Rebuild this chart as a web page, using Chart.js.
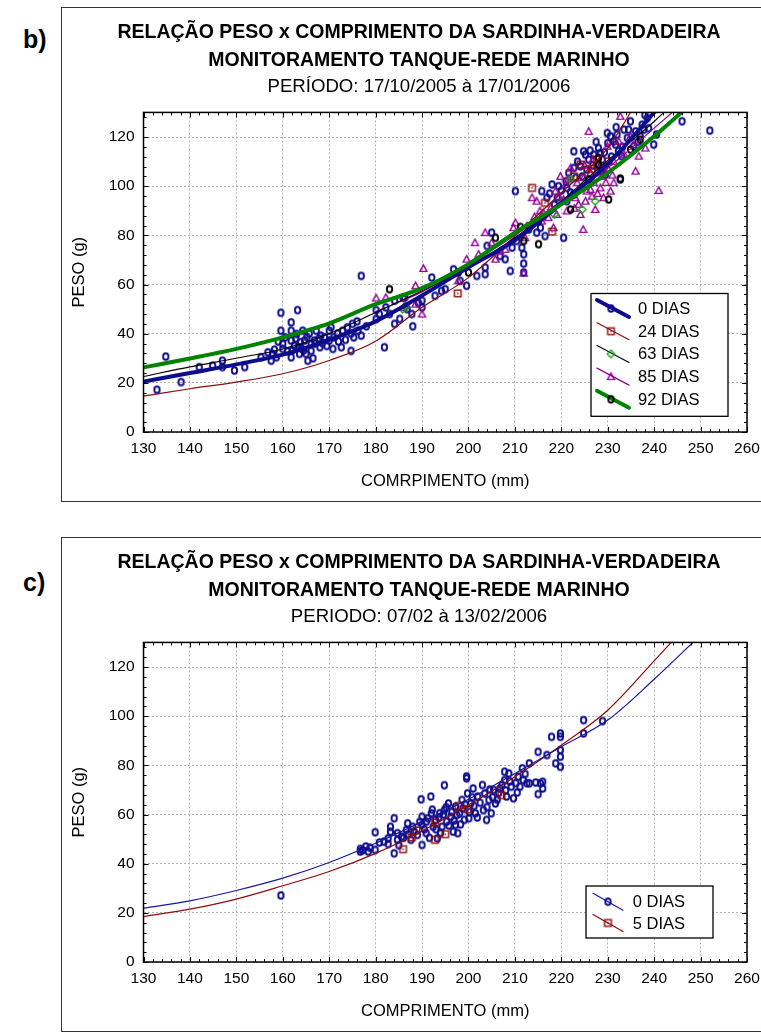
<!DOCTYPE html>
<html><head><meta charset="utf-8">
<script src="https://cdn.jsdelivr.net/npm/chart.js@4.4.0/dist/chart.umd.min.js"></script>
<style>
html,body{margin:0;padding:0;background:#fff;overflow:hidden;width:761px;height:1032px;}
.box{position:absolute;left:61px;width:730px;border:1.5px solid #333;box-sizing:border-box;}
.lbl{position:absolute;font:bold 25px "Liberation Sans",Arial,sans-serif;line-height:25px;color:#000;}
canvas{position:absolute;}
</style></head><body>
<div class="box" style="top:7px;height:495px;"></div>
<div class="lbl" style="left:23px;top:27px;">b)</div>
<canvas id="cb" width="714" height="492" style="left:62px;top:8px;"></canvas>
<div class="box" style="top:537px;height:495px;"></div>
<div class="lbl" style="left:23px;top:570px;">c)</div>
<canvas id="cc" width="714" height="492" style="left:62px;top:538px;"></canvas>
<script>
// ---------- tick labels ----------
const xTicks = [130,140,150,160,170,180,190,200,210,220,230,240,250,260];
const yTicks = [0,20,40,60,80,100,120];

// ---------- panel b ----------
const titleB = ['RELAÇÃO PESO x COMPRIMENTO DA SARDINHA-VERDADEIRA','MONITORAMENTO TANQUE-REDE MARINHO'];
const subtitleB = 'PERÍODO: 17/10/2005 à 17/01/2006';
const xTitleB = 'COMRPIMENTO (mm)';
const seriesB = ['0 DIAS','24 DIAS','63 DIAS','85 DIAS','92 DIAS'];

const b0 = [[132.9,17.2],[134.8,30.7],[138.1,20.3],[142,26.4],[144.9,27],[147,29],[147,26.4],[149.6,25],[151.8,26.4],[155.3,30.4],[156.8,32.4],[157.5,29],[157.8,31.8],[158.2,33.5],[158.6,30.4],[159,36.8],[159.6,48.5],[159.6,41.2],[160,35.8],[160,33.8],[160.5,38.5],[161,32.8],[161.8,44.6],[161.8,41.2],[161.8,37.2],[161.8,30.4],[162,33.2],[162.5,35.1],[162.8,38],[163.2,49.6],[163,39.9],[163.3,34.5],[163.6,31.8],[163.8,36.5],[164,34],[164.3,41.2],[164.5,33.2],[164.7,37.2],[165,31.8],[165.2,38.6],[165.4,29],[165.7,40],[166.1,35.8],[166.1,33],[166.5,30],[166.8,37.2],[167,36],[167.2,41.2],[167.8,38],[168,34.5],[168.2,39.2],[168.5,36.2],[169,38.5],[169.5,35],[170,41.2],[170,37.2],[170.4,42.6],[170.8,33.8],[171,38.5],[171.8,40],[172,36.8],[172.6,34.5],[172.9,41.2],[173.5,37.5],[173.9,42.6],[174.7,33],[174.7,40],[175,44],[175.3,38.5],[176,45],[176.2,41.2],[176.9,63.5],[176.9,39.2],[178,43],[180.1,46],[180.1,49.6],[180.8,48],[181.9,34.5],[182.2,50.7],[183,48],[184.1,44],[184.1,53.4],[185.2,46],[185.9,54.7],[186.3,54.7],[186.8,50],[187.8,48],[188,43],[189.2,52.5],[190,50.7],[190,53.4],[192.1,62.8],[192.8,55.4],[194.2,57.4],[195,58.1],[196.8,66.2],[198.2,61.5],[199.6,59.5],[201.8,63.5],[203.6,64.2],[203.6,66.9],[204,75.7],[205,81.1],[206.8,71.6],[207.9,70.3],[209,65.5],[209.4,75],[210.1,98],[210.4,77.7],[211.5,75],[211.9,72.3],[211.9,68.5],[211.9,64.9],[213,82.4],[214.7,81.1],[215.5,83.1],[215.8,98],[216.5,79.7],[216.9,95.3],[217.5,97],[218,100.7],[218.5,92.5],[219.1,95.3],[219.4,100],[220,98.2],[220.5,79],[221,102],[221.2,99.3],[221.2,93.9],[221.6,105.4],[222,97.5],[222.7,114.2],[222.7,107.4],[223.1,103.4],[223.5,110],[224.1,108.1],[224.5,104],[224.8,114.2],[225.2,112.8],[225.5,106.8],[225.9,110.8],[226.2,114.5],[226.8,108.5],[227,112.8],[227.5,118],[227.7,108.1],[228,115.5],[228.4,113.5],[228.6,106],[228.8,110.8],[229.3,113.8],[229.5,104.7],[229.9,121.6],[230,117.5],[230.6,120.3],[230.8,112],[231.3,118.2],[231.7,116.9],[231.8,124],[232,121],[232.3,114.2],[232.7,102.7],[233,112.2],[233.2,116],[233.5,123],[234.2,119.6],[234.5,123],[234.9,126.4],[235.6,116.2],[236,122.3],[236.5,118],[237,120.3],[237.4,125],[237.8,123],[238,129],[238.5,127.7],[238.8,123.6],[239.9,116.9],[240.5,121],[246,126.4],[252,122.6]];
const b24 = [[197.7,56.4],[213.7,99.3],[216.5,93.2],[218,81.5],[222.7,104],[224.1,108.8],[226.5,107],[227.7,110.8],[230.2,110.1]];
const b63 = [[185.8,50],[186.5,51],[218.5,88.5],[222,102.7],[224.5,90.5],[227.3,93.9]];
const b85 = [[180.1,54.5],[182.2,54.7],[186,50.7],[186.3,51.4],[188.6,59.5],[188.6,52],[190,48],[190.3,66.5],[197.8,61.5],[199.6,70.3],[201.4,77],[202.2,72.3],[203.6,81.1],[205,77],[205.8,70.3],[206.8,73.6],[207.9,74.3],[209.7,83.1],[210.1,85.1],[211.9,64.6],[212.2,79],[212.6,83.8],[213.7,95.3],[214.2,87.5],[214.7,93.9],[215.4,89.9],[215.8,85.8],[216.1,89.2],[217.2,87.2],[217.8,91.5],[218.3,83.1],[218.7,98],[219,88.5],[219.5,95.8],[219.8,104],[220.5,94.6],[220.9,100.7],[221.2,89.9],[221.5,103],[222,107.4],[222.3,96.6],[222.8,91],[223,95.3],[223.4,101.4],[223.7,92.6],[224.1,88.5],[224.5,100],[224.7,82.4],[224.8,103.4],[225,108.5],[225.2,93.9],[225.5,98],[225.9,122.3],[226.3,105.4],[226.3,98.6],[226.6,95.9],[226.8,111],[227,101.4],[227.3,90.5],[227.8,97],[228,107.4],[228.4,99.3],[228.4,105.4],[228.8,104],[229.1,95.3],[229.5,108.8],[229.6,101.5],[229.9,116.2],[230.2,106.8],[230.6,98],[231,104.5],[231.3,110.1],[231.3,101.4],[232.4,118.2],[232.7,128.4],[233.5,113],[234.9,120.3],[235.5,117],[236,106.1],[236.7,112.2],[238.1,115.5],[241,98.2]];
const b92 = [[183,58.1],[197.8,64.9],[200,64.9],[205.8,79],[211.2,83.4],[211.9,77.7],[213,83.4],[215.1,76.4],[215.1,85.8],[222,90.5],[222.7,96.6],[225.9,102.7],[228,111.5],[228,108.8],[230.2,94.6],[232.7,103.1],[234.9,114.9],[237,118.9]];

const curveX = [130,140,150,160,170,180,190,200,210,220,230,240,250];
const fitB0  = [20.5,24,27.5,31.5,37.5,45,55.5,67,78,93,109,130,152];
const fitB24 = [14.6,17.6,20.3,23.7,29.1,36.9,50.7,62.8,79.7,97.3,115.5,147,180];
const fitB63 = [22.6,26.5,30,33.8,40,48.6,57.5,66.9,79,93.9,110.5,126.3,145];
const fitB85 = [null,null,null,null,null,49,57,68,80,94,107.4,123.6,140];
const fitB92 = [26.3,29.9,33.8,38.5,44.2,52,58.5,68.3,81.1,92.6,105.4,120.3,137];

// ---------- panel c ----------
const titleC = ['RELAÇÃO PESO x COMPRIMENTO DA SARDINHA-VERDADEIRA','MONITORAMENTO TANQUE-REDE MARINHO'];
const subtitleC = 'PERIODO: 07/02 à 13/02/2006';
const xTitleC = 'COMPRIMENTO (mm)';
const seriesC = ['0 DIAS','5 DIAS'];

const c0 = [[159.6,27.1],[176.7,46],[176.7,44.9],[177.2,45.5],[177.9,47],[178.4,44.9],[178.8,46.5],[179.9,45.6],[179.9,52.8],[180.8,48.6],[181.8,49],[182.7,48],[182.7,50.3],[183.2,55],[183.2,53],[184,58.5],[184,44.2],[184.7,52.4],[184.7,49.7],[185,47.5],[185.6,51],[186,50.5],[186.6,53.7],[186.9,56.4],[187,52],[187.6,49.7],[188,55],[188.3,53],[189,51.7],[189.5,57],[189.8,66.2],[190,59.1],[190,55.8],[190,47.6],[190.5,54],[190.9,57.1],[190.9,52.4],[191.3,58.5],[191.6,50.5],[191.9,67.3],[192,60.5],[192.2,62],[192.4,55],[192.9,57.8],[193,54],[193.3,50.3],[193.6,58.8],[193.8,60.5],[194,52.5],[194.3,55],[194.6,60],[194.8,71.9],[194.8,61.8],[195.2,63],[195.3,57.1],[195.7,64.5],[195.8,55.5],[196.2,59.1],[196.4,61],[196.7,53],[196.9,57.5],[197.2,63.2],[197.2,55.8],[197.5,59.8],[197.7,52.4],[198.1,60.5],[198.3,56],[198.6,65.9],[198.8,62.5],[199.1,57.8],[199.3,64],[199.6,74.7],[199.6,75.5],[199.8,68.6],[200.1,58.5],[200.2,61],[200.5,64.5],[200.8,67],[201,70.6],[201.2,63.5],[201.5,60.5],[201.9,58.8],[202,67.3],[202.5,64.8],[203,72],[203.2,61.8],[203.5,68.5],[203.9,57.8],[204,63],[204.4,65.9],[204.6,70.2],[204.9,60.5],[205.2,67],[205.4,70],[205.8,64.5],[206.2,66],[206.5,68.8],[206.8,70.6],[207.2,72],[207.8,77.4],[207.8,74],[208,69.8],[208.2,67.3],[208.7,76.7],[208.9,73.5],[209.2,71.3],[209.7,66.6],[210.2,72.8],[210.5,69],[210.7,75.4],[211.1,71.3],[211.6,78.8],[211.8,74],[212.2,76.5],[212.6,72.7],[213.1,80.8],[213.1,72.7],[214.5,73],[215,85.5],[215,68.3],[215.5,72.7],[216,73.3],[216,70.6],[216.9,84.2],[217.9,91.6],[218.8,80.8],[219.8,93],[219.8,91.6],[219.8,86.2],[219.8,83.5],[219.8,79.4],[224.8,98.4],[224.8,93],[228.9,98]];
const c5 = [[185.9,45.9],[187.8,50.7],[188.8,53.5],[192.8,49.7],[192.8,56.7],[195,52],[197.9,63.5],[199.8,62.1],[207.1,67.9]];

const fitC0 = [21.9,24.9,29.1,34.1,40.5,48.3,57.1,66.2,76.7,87.6,98.4,115,133];
const fitC5 = [18.5,21.5,25.6,31,36.8,44.2,53.3,63.9,75.4,88.2,102.4,122.5,143];

// ---------- styling ----------
const FONT = '"Liberation Sans", Arial, sans-serif';
const NAVY = '#0c0c8c', DRED = '#8e0b0b', PURP = '#930093', GRN = '#008400', LGRN = '#14a014', BLK = '#000000', BLUE = '#1818a0';

function marker(kind, color) {
  const s = 11, c = document.createElement('canvas');
  c.width = s; c.height = s;
  const g = c.getContext('2d'), m = s / 2;
  g.strokeStyle = color; g.fillStyle = color;
  if (kind === 'circle') {
    g.lineWidth = 1.9; g.beginPath(); g.ellipse(m, m, 2.7, 3.3, 0, 0, Math.PI * 2); g.stroke();
  } else if (kind === 'square') {
    g.lineWidth = 1.4; g.strokeRect(m - 3.3, m - 3.3, 6.6, 6.6); g.fillRect(m - 0.8, m - 0.8, 1.6, 1.6);
  } else if (kind === 'diamond') {
    g.lineWidth = 1.3; g.beginPath(); g.moveTo(m, m - 3.8); g.lineTo(m + 3.8, m); g.lineTo(m, m + 3.8); g.lineTo(m - 3.8, m); g.closePath(); g.stroke();
  } else if (kind === 'triangle') {
    g.lineWidth = 1.4; g.beginPath(); g.moveTo(m, m - 3.6); g.lineTo(m + 3.5, m + 2.9); g.lineTo(m - 3.5, m + 2.9); g.closePath(); g.stroke();
  }
  return c;
}
const mNavyCirc = marker('circle', NAVY), mBlkCirc = marker('circle', BLK), mRedSq = marker('square', DRED),
      mGrnDia = marker('diamond', LGRN), mPurTri = marker('triangle', PURP);

function pts(arr) { return arr.map(p => ({x: p[0], y: p[1]})); }
function curve(ys) { return curveX.map((x, i) => ({x: x, y: ys[i]})); }
function scat(label, arr, img, order) {
  return {label, data: pts(arr), yAxisID: 'y', pointStyle: img, pointRadius: 3, showLine: false, order};
}
function line(label, ys, color, w, order) {
  return {label, data: curve(ys), yAxisID: 'y', showLine: true, borderColor: color, borderWidth: w, pointRadius: 0,
          cubicInterpolationMode: 'monotone', spanGaps: false, borderCapStyle: 'round', borderJoinStyle: 'round', order};
}

// frame with inward ticks drawn from the scales
const frameTicks = {
  id: 'frameTicks',
  afterDatasetsDraw(chart) {
    const {ctx, chartArea: a, scales: {x, y}} = chart;
    ctx.save();
    ctx.strokeStyle = '#000'; ctx.lineWidth = 1;
    ctx.beginPath();
    for (let i = 0; i < xTicks.length; i++) {
      const sub = i < xTicks.length - 1 ? 5 : 1;
      for (let k = 0; k < sub; k++) {
        const v = xTicks[i] + (i < xTicks.length - 1 ? (xTicks[i + 1] - xTicks[i]) * k / 5 : 0);
        const px = Math.round(x.getPixelForValue(v)) + 0.5, L = k === 0 ? 5 : 3;
        ctx.moveTo(px, a.bottom); ctx.lineTo(px, a.bottom - L);
        ctx.moveTo(px, a.top); ctx.lineTo(px, a.top + L);
      }
    }
    const yl = yTicks.concat([yTicks[yTicks.length - 1] + 20]);
    for (let i = 0; i < yl.length - 1; i++) {
      for (let k = 0; k < 5; k++) {
        const v = yl[i] + (yl[i + 1] - yl[i]) * k / 5;
        if (v > y.max) continue;
        const py = Math.round(y.getPixelForValue(v)) + 0.5, L = k === 0 ? 5 : 3;
        ctx.moveTo(a.left, py); ctx.lineTo(a.left + L, py);
        ctx.moveTo(a.right, py); ctx.lineTo(a.right - L, py);
      }
    }
    ctx.stroke();
    ctx.lineWidth = 1.5;
    ctx.strokeRect(a.left, a.top, a.right - a.left, a.bottom - a.top);
    ctx.restore();
  }
};

const boxLegend = {
  id: 'boxLegend',
  afterDraw(chart, args, o) {
    if (!o || !o.items) return;
    const {ctx, chartArea: a} = chart;
    const L = a.right + o.x1, R = a.right + o.x2, T = a.bottom + o.y1, B = a.bottom + o.y2;
    ctx.save();
    ctx.fillStyle = '#fff'; ctx.fillRect(L, T, R - L, B - T);
    ctx.strokeStyle = '#000'; ctx.lineWidth = 1.3; ctx.strokeRect(L, T, R - L, B - T);
    o.items.forEach((it, i) => {
      const cy = T + o.first + i * o.gap;
      ctx.strokeStyle = it.color; ctx.lineWidth = it.lw; ctx.lineCap = 'round';
      ctx.beginPath(); ctx.moveTo(L + o.lx1, cy - 8.5); ctx.lineTo(L + o.lx2, cy + 8.5); ctx.stroke();
      ctx.drawImage(it.marker, L + o.mx - it.marker.width / 2, cy - it.marker.height / 2);
      ctx.fillStyle = '#000'; ctx.font = '16.5px ' + FONT; ctx.textBaseline = 'middle'; ctx.textAlign = 'left';
      ctx.fillText(it.label, L + o.tx, cy + 1);
    });
    ctx.restore();
  }
};

function build(id, o) {
  return new Chart(document.getElementById(id), {
    type: 'scatter',
    data: {datasets: o.datasets},
    options: {
      responsive: false, animation: false, events: [],
      layout: {padding: 0},
      plugins: {
        legend: {display: false}, tooltip: {enabled: false},
        title: {display: true, text: o.title, color: '#000',
                font: {family: FONT, size: 19.5, weight: 'bold', lineHeight: 28 / 19.5},
                padding: {top: 11, bottom: 1.2}},
        subtitle: {display: true, text: o.subtitle, color: '#000',
                   font: {family: FONT, size: o.subSize, weight: 'normal', lineHeight: 1.2},
                   padding: {top: 0, bottom: 13.9}},
        boxLegend: o.legend
      },
      scales: {
        x: {type: 'linear', min: 130, max: 260,
            afterBuildTicks: s => { s.ticks = xTicks.map(v => ({value: v})); },
            afterFit: s => { s.height = 68; },
            ticks: {color: '#000', font: {family: FONT, size: 15.5}, padding: 7, maxRotation: 0, autoSkip: false},
            grid: {color: '#b4b4b4', lineWidth: 1, drawTicks: false},
            border: {display: false, dash: [2, 2]},
            title: {display: true, text: o.xTitle, color: '#000', font: {family: FONT, size: 16.5}, padding: {top: 0, bottom: 9}}},
        y: {type: 'linear', position: 'left', min: 0, max: 130,
            afterBuildTicks: s => { s.ticks = yTicks.map(v => ({value: v})); },
            afterFit: s => { s.width = 81.5; },
            ticks: {color: '#000', font: {family: FONT, size: 15.5}, padding: 9, autoSkip: false},
            grid: {color: '#b4b4b4', lineWidth: 1, drawTicks: false},
            border: {display: false, dash: [2, 2]},
            title: {display: true, text: 'PESO (g)', color: '#000', font: {family: FONT, size: 16.5}, padding: {top: 8, bottom: 0}}},
        yR: {type: 'linear', position: 'right', min: 0, max: 130, display: true,
             afterBuildTicks: s => { s.ticks = yTicks.map(v => ({value: v})); },
             afterFit: s => { s.width = 29; },
             ticks: {display: false}, grid: {display: false, drawTicks: false}, border: {display: false},
             title: {display: false}}
      }
    },
    plugins: [frameTicks, boxLegend]
  });
}

build('cb', {
  title: titleB, subtitle: subtitleB, subSize: 18.6, xTitle: xTitleB,
  datasets: [
    line(seriesB[4] + ' fit', fitB92, GRN, 4, 1),
    line(seriesB[0] + ' fit', fitB0, NAVY, 4, 2),
    line(seriesB[2] + ' fit', fitB63, BLK, 1.1, 3),
    line(seriesB[3] + ' fit', fitB85, PURP, 1.2, 4),
    line(seriesB[1] + ' fit', fitB24, DRED, 1.2, 5),
    scat(seriesB[4], b92, mBlkCirc, 6),
    scat(seriesB[2], b63, mGrnDia, 7),
    scat(seriesB[1], b24, mRedSq, 8),
    scat(seriesB[3], b85, mPurTri, 9),
    scat(seriesB[0], b0, mNavyCirc, 10)
  ],
  legend: {x1: -156, x2: -19, y1: -138.5, y2: -15.7, first: 15, gap: 22.7, lx1: 6, lx2: 38, mx: 20, tx: 47,
    items: [
      {label: seriesB[0], color: NAVY, lw: 4, marker: mNavyCirc},
      {label: seriesB[1], color: DRED, lw: 1.2, marker: mRedSq},
      {label: seriesB[2], color: BLK, lw: 1.1, marker: mGrnDia},
      {label: seriesB[3], color: PURP, lw: 1.2, marker: mPurTri},
      {label: seriesB[4], color: GRN, lw: 4, marker: mBlkCirc}
    ]}
});

build('cc', {
  title: titleC, subtitle: subtitleC, subSize: 18.6, xTitle: xTitleC,
  datasets: [
    line(seriesC[0] + ' fit', fitC0, BLUE, 1.2, 1),
    line(seriesC[1] + ' fit', fitC5, DRED, 1.2, 2),
    scat(seriesC[1], c5, mRedSq, 3),
    scat(seriesC[0], c0, mNavyCirc, 4)
  ],
  legend: {x1: -161, x2: -34, y1: -76, y2: -24, first: 15.7, gap: 21.3, lx1: 7, lx2: 37, mx: 22, tx: 46.7,
    items: [
      {label: seriesC[0], color: BLUE, lw: 1.2, marker: mNavyCirc},
      {label: seriesC[1], color: DRED, lw: 1.2, marker: mRedSq}
    ]}
});
</script>
</body></html>
